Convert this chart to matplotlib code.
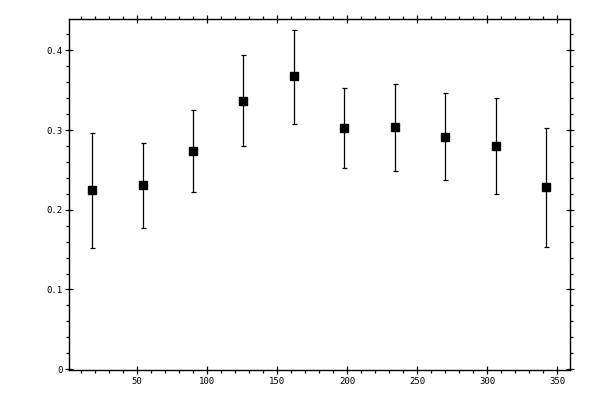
import numpy as np
import matplotlib.pyplot as plt
from matplotlib.ticker import MultipleLocator, FormatStrFormatter

# data (asymmetric error bars)
x = [18, 54, 90, 126, 162, 198, 234, 270, 306, 342]
y = [0.2244, 0.2307, 0.2735, 0.3366, 0.3672, 0.3025, 0.3038, 0.2912, 0.2798, 0.2282]
y_hi = [0.2962, 0.2836, 0.3252, 0.3945, 0.4260, 0.3530, 0.3580, 0.3466, 0.3403, 0.3025]
y_lo = [0.1525, 0.1777, 0.2218, 0.2798, 0.3076, 0.2521, 0.2483, 0.2370, 0.2193, 0.1538]

y = np.array(y)
err = [y - np.array(y_lo), np.array(y_hi) - y]

fig = plt.figure(figsize=(6, 4), dpi=100)
ax = fig.add_axes([0.115, 0.075, 0.835, 0.8775])

ax.errorbar(x, y, yerr=err, fmt='s', color='black', markersize=5.2,
            elinewidth=0.9, capsize=1.8, capthick=0.9)

ax.set_xlim(1.5, 359)
ax.set_ylim(-0.001, 0.4393)

ax.xaxis.set_major_locator(MultipleLocator(50))
ax.xaxis.set_minor_locator(MultipleLocator(10))
ax.yaxis.set_major_locator(MultipleLocator(0.1))
ax.yaxis.set_minor_locator(MultipleLocator(0.02))
ax.yaxis.set_major_formatter(FormatStrFormatter('%g'))

for s in ax.spines.values():
    s.set_linewidth(1.0)

ax.tick_params(which='major', direction='inout', length=5.5, width=0.9,
               top=True, right=True, labelsize=6.5, pad=2)
ax.tick_params(which='minor', direction='out', length=2.3, width=0.9,
               top=True, right=True)
for lab in ax.get_xticklabels() + ax.get_yticklabels():
    lab.set_family('DejaVu Sans Mono')

fig.savefig('out.png', dpi=100)
